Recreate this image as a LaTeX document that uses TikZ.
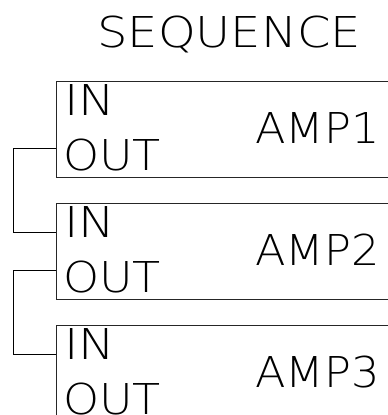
\documentclass[tikz,border=0pt]{standalone}
\usepackage{fontspec}
\setmainfont{DejaVu Sans ExtraLight}
\begin{document}
\begin{tikzpicture}[x=1pt,y=-1pt,
  blk/.style={draw=black!85,line width=1.3pt,anchor=north west,minimum width=360pt,minimum height=96pt,inner sep=0pt},
  wire/.style={draw=black,line width=1pt},
  lbl/.style={inner sep=0pt,anchor=base west,font=\fontsize{42.5}{42.5}\selectfont},
  amp/.style={inner sep=0pt,anchor=base west,font=\fontsize{42.5}{42.5}\selectfont},
  ttl/.style={inner sep=0pt,anchor=base west,font=\fontsize{42.5}{42.5}\selectfont}]
\clip (0,0) rectangle (388,415);
\node[ttl] (title) at (97,47.5) {\scalebox{1.13}[1]{SEQUENCE}};
\foreach \i/\t in {1/81,2/203,3/325}{
  \node[blk] (b\i) at (56,\t) {};
  \node[lbl] (in\i) at (64,\t+34) {\scalebox{1.15}[1]{IN}};
  \node[lbl] (out\i) at (63,\t+89) {\scalebox{1.08}[1]{OUT}};
  \node[amp] (amp\i) at (255,\t+62) {\scalebox{1.05}[1]{AMP\i}};
  \coordinate (i\i) at ([yshift=-29pt]b\i.north west);
  \coordinate (o\i) at ([yshift=-67pt]b\i.north west);
}
\draw[wire] (o1) -- ([xshift=-43pt]o1) |- (i2);
\draw[wire] (o2) -- ([xshift=-43pt]o2) |- (i3);
\end{tikzpicture}
\end{document}
